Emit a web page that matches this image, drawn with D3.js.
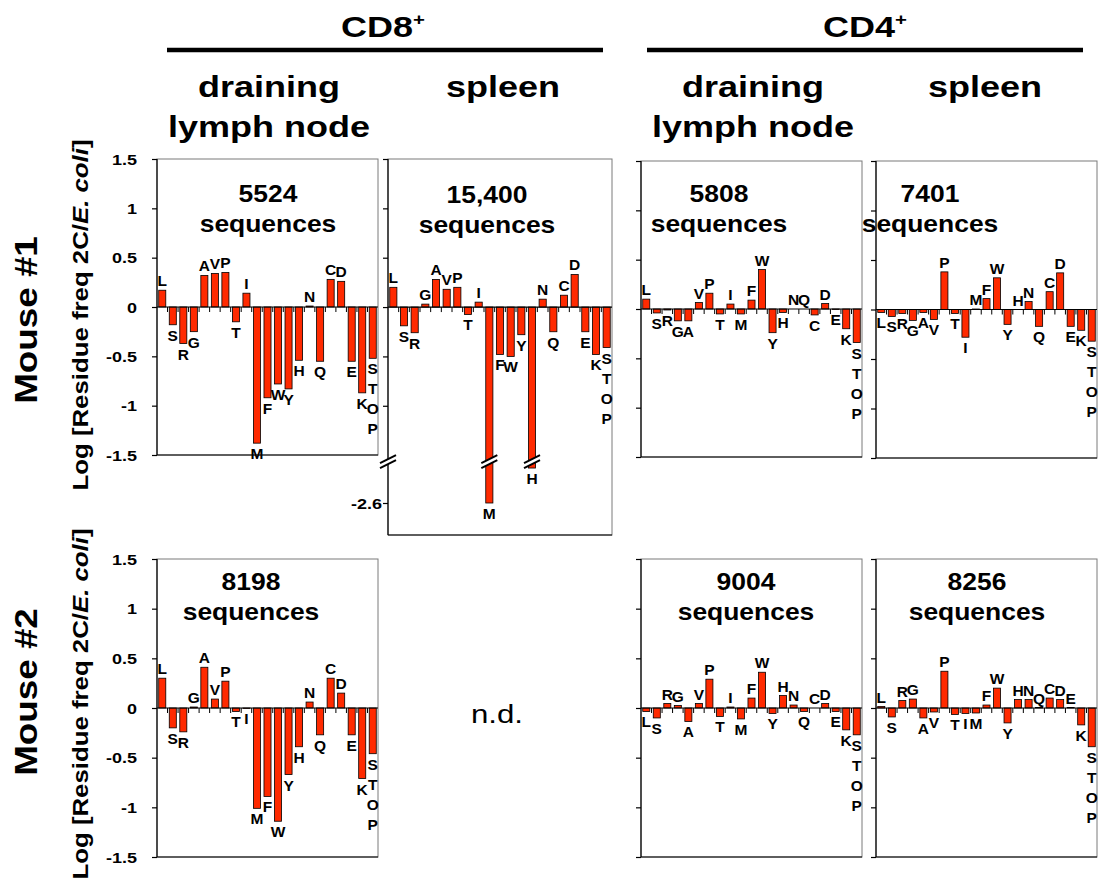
<!DOCTYPE html>
<html lang="en">
<head>
  <meta charset="UTF-8">
  <title>Residue frequency 2C / E. coli</title>
  <style>
    body { margin: 0; background: #fff; }
    svg text {
      font-family: "Liberation Sans", Arial, Helvetica, sans-serif;
      font-weight: bold;
      fill: #000;
    }
    .bar { fill: #ff2a00; stroke: #000; stroke-width: 0.8px; }
    .frame { fill: none; stroke: #7a7a7a; stroke-width: 1px; }
    .axis-line { stroke: #000; stroke-width: 1.2px; }
  </style>
</head>
<body>
  <script src="https://d3js.org/d3.v7.min.js"></script>
  <script>
    // residues along the x axis of every panel
    const residues = ["L","S","R","G","A","V","P","T","I","M","F","W","Y","H","N","Q","C","D","E","K","STOP"];
    const yTicks = [-1.5, -1, -0.5, 0, 0.5, 1, 1.5];
    const seqCounts = ["5524", "15,400", "5808", "7401", "8198", "9004", "8256"];

    // log ratio values
    const m1Cd8Ln = [0.17,-0.18,-0.37,-0.25,0.32,0.34,0.35,-0.15,0.14,-1.38,-0.92,-0.78,-0.83,-0.54,0.01,-0.55,0.28,0.26,-0.55,-0.87,-0.52];
    const m1Cd8Sp = [0.2,-0.19,-0.26,0.03,0.28,0.18,0.2,-0.075,0.05,-2.6,-0.48,-0.5,-0.28,-1.68,0.08,-0.25,0.12,0.33,-0.25,-0.48,-0.41];
    const m1Cd4Ln = [0.1,-0.04,-0.01,-0.12,-0.12,0.065,0.16,-0.05,0.05,-0.05,0.09,0.4,-0.24,-0.035,0,0,-0.06,0.055,-0.005,-0.2,-0.34];
    const m1Cd4Sp = [-0.03,-0.07,-0.04,-0.11,-0.03,-0.1,0.38,-0.04,-0.28,0.005,0.11,0.32,-0.15,0,0.08,-0.17,0.18,0.37,-0.17,-0.21,-0.32];
    const m2Cd8Ln = [0.3,-0.2,-0.24,0.01,0.41,0.09,0.27,-0.035,-0.005,-1.01,-0.89,-1.14,-0.67,-0.39,0.06,-0.27,0.3,0.15,-0.27,-0.71,-0.46];
    const m2Cd4Ln = [-0.035,-0.1,0.045,0.025,-0.135,0.045,0.29,-0.085,0.01,-0.11,0.1,0.36,-0.055,0.125,0.03,-0.035,0,0.045,-0.035,-0.22,-0.27];
    const m2Cd4Sp = [0.015,-0.09,0.075,0.09,-0.1,-0.04,0.37,-0.065,-0.055,-0.05,0.03,0.2,-0.15,0.085,0.085,0.005,0.1,0.085,0.005,-0.17,-0.39];

    // panel boxes on the page
    const panels = [
      { vals: m1Cd8Ln, seq: seqCounts[0], x0: 157, x1: 378, y0: 159, y1: 455, tickLabels: true, tx: 268, ty: 202 },
      { vals: m1Cd8Sp, seq: seqCounts[1], x0: 388, x1: 612, y0: 159, y1: 535, broken: true, tx: 487, ty: 203 },
      { vals: m1Cd4Ln, seq: seqCounts[2], x0: 641, x1: 862, y0: 161, y1: 457, tx: 719, ty: 202 },
      { vals: m1Cd4Sp, seq: seqCounts[3], x0: 876, x1: 1097, y0: 161, y1: 458, tx: 930, ty: 202 },
      { vals: m2Cd8Ln, seq: seqCounts[4], x0: 157, x1: 378, y0: 559, y1: 857, tickLabels: true, tx: 251, ty: 590 },
      { vals: m2Cd4Ln, seq: seqCounts[5], x0: 641, x1: 862, y0: 559, y1: 857, tx: 746, ty: 590 },
      { vals: m2Cd4Sp, seq: seqCounts[6], x0: 876, x1: 1097, y0: 559, y1: 857, tx: 977, ty: 590 }
    ];

    const svg = d3.select("body").append("svg")
      .attr("width", 1099)
      .attr("height", 890);

    // text that is a bit wider than Liberation Sans, like the original
    function wide(g, x, y, str, size, sx, anchor) {
      return g.append("text")
        .attr("transform", `translate(${x},${y}) scale(${sx},1)`)
        .attr("text-anchor", anchor || "middle")
        .style("font-size", size + "px")
        .text(str);
    }

    function drawBreak(g, cx, cy) {
      g.append("path")
        .attr("d", `M${cx-8},${cy+2} L${cx+8},${cy-6} L${cx+8},${cy-1} L${cx-8},${cy+7} Z`)
        .attr("fill", "#fff");
      [0, 5].forEach(off => {
        g.append("line")
          .attr("x1", cx - 8).attr("y1", cy + 2 + off)
          .attr("x2", cx + 8).attr("y2", cy - 6 + off)
          .attr("stroke", "#000").attr("stroke-width", 2);
      });
    }

    // headers
    [["CD8", 383, 167, 603], ["CD4", 865, 647, 1083]].forEach(([name, cx, lx0, lx1]) => {
      const t = wide(svg, cx, 37, name, 30, 1.2);
      t.append("tspan").attr("dy", -12).style("font-size", "17px").text("+");
      svg.append("line")
        .attr("x1", lx0).attr("x2", lx1).attr("y1", 50).attr("y2", 50)
        .attr("stroke", "#000").attr("stroke-width", 4.5);
    });
    [[269, 503], [753, 985]].forEach(([lnX, spX]) => {
      wide(svg, lnX, 97, "draining", 30, 1.2);
      wide(svg, lnX, 137, "lymph node", 30, 1.2);
      wide(svg, spX, 97, "spleen", 30, 1.2);
    });

    // row labels
    [["Mouse #1", 320, 315], ["Mouse #2", 692, 704]].forEach(([name, my, ly]) => {
      svg.append("text")
        .attr("transform", `translate(37,${my}) rotate(-90) scale(1.15,1)`)
        .attr("text-anchor", "middle")
        .style("font-size", "32px")
        .text(name);
      const yl = svg.append("text")
        .attr("transform", `translate(88,${ly}) rotate(-90) scale(1.2,1)`)
        .attr("text-anchor", "middle")
        .style("font-size", "21.5px");
      yl.append("tspan").text("Log [Residue freq 2C/");
      yl.append("tspan").style("font-style", "italic").text("E. coli");
      yl.append("tspan").text("]");
    });

    panels.forEach(p => {
      const g = svg.append("g");

      const x = d3.scaleBand()
        .domain(residues)
        .range([p.x0, p.x1])
        .paddingInner(0.33)
        .paddingOuter(0.165);

      const y = p.broken
        ? d3.scaleLinear().domain([1.5, -1.6, -2.6]).range([p.y0, 465, 503])
        : d3.scaleLinear().domain([-1.5, 1.5]).range([p.y1, p.y0]);

      g.append("rect").attr("class", "frame")
        .attr("x", p.x0).attr("y", p.y0)
        .attr("width", p.x1 - p.x0).attr("height", p.y1 - p.y0);
      g.append("line").attr("class", "axis-line")
        .attr("x1", p.x0).attr("x2", p.x1).attr("y1", p.y1).attr("y2", p.y1);

      // left value axis
      const tv = p.broken ? [1.5, 1, 0.5, 0, -0.5, -1, -2.6] : yTicks;
      const ax = g.append("g")
        .attr("transform", `translate(${p.x0},0)`)
        .call(d3.axisLeft(y).tickValues(tv).tickSize(5)
          .tickFormat(d => (p.tickLabels || d === -2.6) ? String(d) : ""));
      ax.select(".domain").remove();
      ax.selectAll(".tick line").attr("stroke", "#000").attr("stroke-width", 1.2);
      ax.selectAll(".tick text")
        .attr("x", null).attr("dy", null)
        .attr("transform", d => `translate(${p.tickLabels ? -20 : -6},5) scale(1.2,1)`)
        .style("font-size", "15px")
        .style("font-family", "'Liberation Sans', Arial, sans-serif")
        .attr("fill", "#000");
      g.append("line").attr("class", "axis-line")
        .attr("x1", p.x0).attr("x2", p.x0).attr("y1", p.y0).attr("y2", p.y1);

      // bars
      const rows = residues.map((r, i) => ({ r, v: p.vals[i] }));
      g.selectAll("rect.bar")
        .data(rows)
        .join("rect")
        .attr("class", "bar")
        .attr("x", d => x(d.r))
        .attr("width", x.bandwidth())
        .attr("y", d => y(Math.max(0, d.v)))
        .attr("height", d => Math.abs(y(d.v) - y(0)));

      // category axis at zero with ticks between bars
      const step = x.step();
      const edges = residues.map(r => x(r) - step * 0.165).concat([p.x1]);
      g.append("line").attr("stroke", "#000").attr("stroke-width", 1.2)
        .attr("x1", p.x0).attr("x2", p.x1).attr("y1", y(0)).attr("y2", y(0));
      g.selectAll("line.xt")
        .data(edges.slice(1, -1))
        .join("line")
        .attr("class", "xt")
        .attr("x1", d => d).attr("x2", d => d)
        .attr("y1", y(0)).attr("y2", y(0) + 5)
        .attr("stroke", "#000").attr("stroke-width", 1);

      // breaks for the out-of-range bars
      if (p.broken) {
        const yb = y(-1.56);
        drawBreak(g, p.x0, yb);
        rows.filter(d => d.v < -1.6).forEach(d => drawBreak(g, x(d.r) + x.bandwidth() / 2, yb));
      }

      // residue letters
      rows.forEach(d => {
        const cx = x(d.r) + x.bandwidth() / 2;
        const letters = d.r === "STOP" ? d.r.split("") : [d.r];
        letters.forEach((ch, k) => {
          const yy = d.v >= 0 ? y(d.v) - 4 - (letters.length - 1 - k) * 20 : y(d.v) + 16 + k * 20;
          g.append("text")
            .attr("x", cx).attr("y", yy)
            .attr("text-anchor", "middle")
            .style("font-size", "15.5px")
            .text(ch);
        });
      });

      // sequence count
      wide(g, p.tx, p.ty, p.seq, 23, 1.15);
      wide(g, p.tx, p.ty + 30, "sequences", 23, 1.15);
    });

    // missing panel
    svg.append("text")
      .attr("transform", "translate(497,723) scale(1.2,1)")
      .attr("text-anchor", "middle")
      .style("font-size", "26px")
      .style("font-weight", "normal")
      .text("n.d.");
  </script>
</body>
</html>
